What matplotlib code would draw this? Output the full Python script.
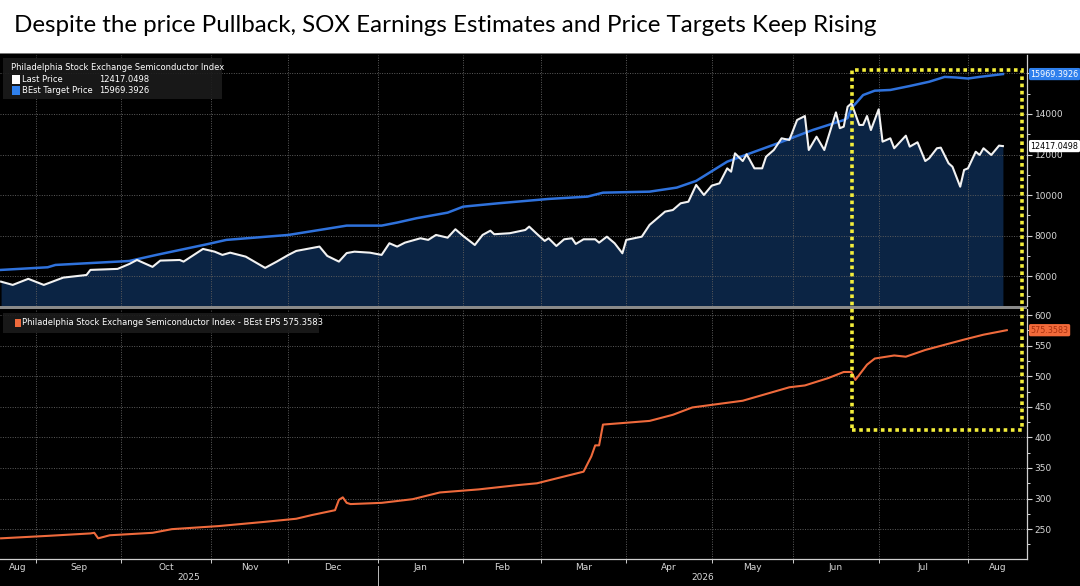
import numpy as np
import matplotlib.pyplot as plt
import matplotlib.transforms as mtransforms
from matplotlib.patches import Rectangle
from matplotlib.lines import Line2D

title = "Despite the price Pullback, SOX Earnings Estimates and Price Targets Keep Rising"

# Last Price (white line, filled)
price_dates = [
    '2025-08-19', '2025-08-22', '2025-08-28', '2025-09-03', '2025-09-10', '2025-09-18', '2025-09-19',
    '2025-09-30', '2025-10-03', '2025-10-07', '2025-10-13', '2025-10-15', '2025-10-22', '2025-10-23',
    '2025-10-30', '2025-11-04', '2025-11-06', '2025-11-10', '2025-11-14', '2025-11-21', '2025-11-26',
    '2025-12-01', '2025-12-03', '2025-12-11', '2025-12-15', '2025-12-18', '2025-12-22', '2025-12-24',
    '2025-12-30', '2026-01-02', '2026-01-06', '2026-01-08', '2026-01-12', '2026-01-16', '2026-01-20',
    '2026-01-22', '2026-01-27', '2026-01-29', '2026-02-02', '2026-02-05', '2026-02-09', '2026-02-11',
    '2026-02-12', '2026-02-18', '2026-02-24', '2026-02-25', '2026-02-27', '2026-03-03', '2026-03-04',
    '2026-03-06', '2026-03-10', '2026-03-12', '2026-03-13', '2026-03-17', '2026-03-20', '2026-03-23',
    '2026-03-25', '2026-03-27', '2026-03-31', '2026-04-01', '2026-04-07', '2026-04-09', '2026-04-14',
    '2026-04-15', '2026-04-17', '2026-04-21', '2026-04-23', '2026-04-27', '2026-04-29', '2026-05-01',
    '2026-05-05', '2026-05-07', '2026-05-08', '2026-05-11', '2026-05-13', '2026-05-14', '2026-05-18',
    '2026-05-20', '2026-05-21', '2026-05-25', '2026-05-27', '2026-05-29', '2026-06-02', '2026-06-04',
    '2026-06-05', '2026-06-09', '2026-06-11', '2026-06-16', '2026-06-17', '2026-06-18', '2026-06-19',
    '2026-06-22', '2026-06-24', '2026-06-25', '2026-06-26', '2026-06-29', '2026-07-01', '2026-07-02',
    '2026-07-06', '2026-07-07', '2026-07-10', '2026-07-13', '2026-07-15', '2026-07-17', '2026-07-20',
    '2026-07-22', '2026-07-23', '2026-07-27', '2026-07-28', '2026-07-30', '2026-07-31', '2026-08-03',
    '2026-08-05', '2026-08-06', '2026-08-07', '2026-08-11', '2026-08-13', '2026-08-14']
price_vals = [
    5730, 5570, 5870, 5570, 5930, 6060, 6310,
    6360, 6600, 6800, 6460, 6770, 6800, 6720,
    7345, 7210, 7050, 7160, 6965, 6410, 6720,
    7050, 7245, 7460, 7000, 6720, 7140, 7210,
    7160, 7050, 7625, 7460, 7655, 7870, 7790,
    8035, 7900, 8315, 7985, 7540, 8035, 8245,
    8070, 8120, 8280, 8445, 8085, 7740, 7870,
    7490, 7820, 7870, 7590, 7820, 7820, 7655,
    7950, 7625, 7130, 7790, 7950, 8530, 9020,
    9185, 9265, 9595, 9675, 10500, 10005, 10465,
    10580, 11320, 11155, 12060, 11680, 12015, 11320,
    11320, 11895, 12225, 12800, 12720, 13705, 13900,
    12225, 12880, 12225, 14080, 13300, 13375, 14360,
    14525, 13460, 13460, 13900, 13210, 14230, 12635,
    12800, 12310, 12930, 12390, 12605, 11680, 11815,
    12310, 12340, 11570, 11400, 10415, 11240, 11320,
    12140, 11980, 12310, 11980, 12440, 12417.0498]

# BEst Target Price (blue line)
target_dates = [
    '2025-08-19', '2025-09-04', '2025-09-08', '2025-10-03', '2025-10-14', '2025-10-31', '2025-11-07',
    '2025-12-01', '2025-12-11', '2025-12-22', '2026-01-02', '2026-01-08', '2026-01-15', '2026-01-27',
    '2026-02-02', '2026-02-13', '2026-03-04', '2026-03-18', '2026-03-24', '2026-04-09', '2026-04-20',
    '2026-04-27', '2026-05-07', '2026-05-26', '2026-06-08', '2026-06-18', '2026-06-19', '2026-06-22',
    '2026-06-23', '2026-06-25', '2026-06-30', '2026-07-06', '2026-07-13', '2026-07-20', '2026-07-24',
    '2026-07-29', '2026-08-03', '2026-08-06', '2026-08-14']
target_vals = [
    6310, 6440, 6555, 6750, 7050, 7575, 7790,
    8035, 8280, 8495, 8495, 8645, 8860, 9135,
    9430, 9595, 9810, 9925, 10120, 10170, 10370,
    10700, 11650, 12555, 13210, 13700, 13800, 14300,
    14500, 14935, 15150, 15185, 15380, 15590, 15830,
    15800, 15750, 15830, 15969.3926]

# BEst EPS (orange line)
eps_dates = [
    '2025-08-19', '2025-09-04', '2025-09-19', '2025-09-22', '2025-09-23', '2025-09-26', '2025-10-13',
    '2025-10-20', '2025-11-05', '2025-11-21', '2025-12-03', '2025-12-09', '2025-12-17', '2025-12-18',
    '2025-12-19', '2025-12-22', '2025-12-23', '2026-01-02', '2026-01-14', '2026-01-23', '2026-02-06',
    '2026-02-20', '2026-02-27', '2026-03-17', '2026-03-19', '2026-03-20', '2026-03-23', '2026-03-24',
    '2026-04-09', '2026-04-17', '2026-04-24', '2026-05-13', '2026-05-29', '2026-06-04', '2026-06-12',
    '2026-06-18', '2026-06-22', '2026-06-23', '2026-06-26', '2026-06-30', '2026-07-07', '2026-07-10',
    '2026-07-17', '2026-07-31', '2026-08-07', '2026-08-17']
eps_vals = [
    235, 239, 243, 244, 235, 240, 244,
    250, 255, 262, 267, 273, 281, 298,
    302, 293, 291, 293, 299, 310, 315,
    322, 325, 344, 369, 387, 387, 421,
    427, 437, 449, 460, 482, 485, 497,
    507, 507, 494, 519, 529, 534, 532,
    543, 560, 568, 575.3583]

month_starts = ['2025-09-01', '2025-10-01', '2025-11-01', '2025-12-01', '2026-01-01', '2026-02-01',
                '2026-03-01', '2026-04-01', '2026-05-01', '2026-06-01', '2026-07-01', '2026-08-01']
month_names = ['Aug', 'Sep', 'Oct', 'Nov', 'Dec', 'Jan', 'Feb', 'Mar', 'Apr', 'May', 'Jun', 'Jul', 'Aug']
year_names = ['2025', '2026']

# the terminal axis runs on trading days
start = np.datetime64('2025-08-18')


def bday_pos(dates):
    return np.busday_count(start, np.array(dates, dtype='datetime64[D]'))


xp = bday_pos(price_dates)
xt = bday_pos(target_dates)
xe = bday_pos(eps_dates)
xm = bday_pos(month_starts)
xlim = (0.72, 265.2)

W, H = 1080, 586
fig = plt.figure(figsize=(W / 100, H / 100), dpi=100, facecolor='white')
fig.add_artist(Rectangle((0, 0), 1, (H - 53) / H, transform=fig.transFigure,
                         facecolor='black', edgecolor='none', zorder=-5))
fig.add_artist(Rectangle((0, (H - 54) / H), 1, 1.2 / H, transform=fig.transFigure,
                         facecolor='#777777', edgecolor='none', zorder=-4))
fig.text(14 / W, 1 - 25 / H, title, fontsize=17.4, family='Lato', color='black', va='center')

ax1 = fig.add_axes([0, (H - 306) / H, 1027 / W, 251 / H])
ax2 = fig.add_axes([0, (H - 558.5) / H, 1027 / W, 249.5 / H])

grid_col = '#5c5c5c'
for ax in (ax1, ax2):
    ax.set_facecolor('black')
    ax.set_xlim(*xlim)
    for s in ['top', 'left', 'bottom']:
        ax.spines[s].set_visible(False)
    ax.spines['right'].set_color('#cfcfcf')
    ax.spines['right'].set_linewidth(0.9)
    ax.yaxis.tick_right()
    ax.tick_params(axis='y', which='both', colors='#d8d8d8', labelsize=6.5, direction='out', pad=2)
    ax.tick_params(axis='y', which='major', length=3.5, width=0.8)
    ax.tick_params(axis='y', which='minor', length=2, width=0.7)
    ax.set_xticks(xm)
    ax.grid(True, which='major', color=grid_col, linestyle=(0, (1, 1.5)), linewidth=0.7)

# top panel
ybot = 4530
ax1.set_ylim(ybot, 16910)
top_ticks = np.arange(6000, 16001, 2000)
ax1.set_yticks(top_ticks)
# the 16000 label sits under the target tag
ax1.set_yticklabels([str(t) if t < 16000 else '' for t in top_ticks])
ax1.set_yticks(np.arange(5000, 16001, 1000), minor=True)
ax1.tick_params(axis='x', which='both', length=0, labelbottom=False)
ax1.fill_between(xp, price_vals, ybot, color='#0b2444', zorder=1, linewidth=0)
ax1.plot(xt, target_vals, color='#2f72dc', lw=1.8, zorder=3)
ax1.plot(xp, price_vals, color='#f2f2f2', lw=1.5, zorder=4)

# bottom panel
ax2.set_ylim(202, 610)
ax2.set_yticks(np.arange(250, 601, 50))
ax2.set_yticks(np.arange(225, 601, 25), minor=True)
ax2.spines['bottom'].set_visible(True)
ax2.spines['bottom'].set_color('#cfcfcf')
ax2.spines['bottom'].set_linewidth(0.9)
ax2.plot(xe, eps_vals, color='#ef6a3c', lw=1.5, zorder=3)

edges = np.concatenate([[xlim[0]], xm, [xlim[1]]])
centers = (edges[:-1] + edges[1:]) / 2
ax2.set_xticks(centers, minor=True)
ax2.set_xticklabels(month_names, minor=True)
ax2.set_xticklabels([])
ax2.tick_params(axis='x', which='major', colors='#cfcfcf', length=3, width=0.7)
ax2.tick_params(axis='x', which='minor', length=0, labelsize=6.5, labelcolor='#d8d8d8', pad=3)

jan = xm[4]
tb = mtransforms.blended_transform_factory(ax2.transData, ax2.transAxes)
ax2.text((xlim[0] + jan) / 2, -0.078, year_names[0], transform=tb, ha='center', va='center',
         fontsize=6.5, color='#d8d8d8')
ax2.text((jan + xlim[1]) / 2, -0.078, year_names[1], transform=tb, ha='center', va='center',
         fontsize=6.5, color='#d8d8d8')
ax2.add_line(Line2D([jan, jan], [-0.03, -0.11], transform=tb, color='#bbbbbb', lw=0.7, clip_on=False))

# value tags on the right axis
for ax, val, s, fc, tc in [(ax1, target_vals[-1], '15969.3926', '#2f80ed', 'white'),
                           (ax1, price_vals[-1], '12417.0498', 'white', 'black'),
                           (ax2, eps_vals[-1], '575.3583', '#f26a3a', '#a8300e')]:
    tr = mtransforms.blended_transform_factory(ax.transAxes, ax.transData)
    ax.text(1.0035, val, s, transform=tr, ha='left', va='center', fontsize=5.8, color=tc,
            zorder=10, clip_on=False,
            bbox=dict(boxstyle='round,pad=0.2', fc=fc, ec='none'))

# legends
ax1.add_patch(Rectangle((0.003, 0.825), 0.213, 0.163, transform=ax1.transAxes,
                        facecolor='#1b1b1b', edgecolor='none', alpha=0.9, zorder=6))
ax1.text(0.0107, 0.952, 'Philadelphia Stock Exchange Semiconductor Index', transform=ax1.transAxes,
         fontsize=6, color='white', va='center', zorder=7)
ax1.add_patch(Rectangle((0.0117, 0.886), 0.0078, 0.034, transform=ax1.transAxes,
                        facecolor='white', edgecolor='none', zorder=7))
ax1.add_patch(Rectangle((0.0117, 0.841), 0.0078, 0.034, transform=ax1.transAxes,
                        facecolor='#2f80ed', edgecolor='none', zorder=7))
ax1.text(0.0214, 0.904, 'Last Price', transform=ax1.transAxes, fontsize=6, color='white',
         va='center', zorder=7)
ax1.text(0.0964, 0.904, '12417.0498', transform=ax1.transAxes, fontsize=6, color='white',
         va='center', zorder=7)
ax1.text(0.0214, 0.859, 'BEst Target Price', transform=ax1.transAxes, fontsize=6, color='white',
         va='center', zorder=7)
ax1.text(0.0964, 0.859, '15969.3926', transform=ax1.transAxes, fontsize=6, color='white',
         va='center', zorder=7)

ax2.add_patch(Rectangle((0.003, 0.904), 0.308, 0.08, transform=ax2.transAxes,
                        facecolor='#1b1b1b', edgecolor='none', alpha=0.9, zorder=6))
ax2.add_patch(Rectangle((0.0146, 0.928), 0.0058, 0.032, transform=ax2.transAxes,
                        facecolor='#ef6a3c', edgecolor='none', zorder=7))
ax2.text(0.0214, 0.944, 'Philadelphia Stock Exchange Semiconductor Index - BEst EPS 575.3583',
         transform=ax2.transAxes, fontsize=6, color='white', va='center', zorder=7)

# separator between the panels
fig.add_artist(Rectangle((0, (H - 308.5) / H), 1027 / W, 2.5 / H, transform=fig.transFigure,
                         facecolor='#8a8a8a', edgecolor='none', zorder=5))

# highlight box
fig.add_artist(Rectangle((852 / W, (H - 430) / H), 170 / W, 360 / H, transform=fig.transFigure,
                         fill=False, edgecolor='#f4ee3a', linewidth=2.6,
                         linestyle=(0, (1, 1)), zorder=20))

fig.savefig('out.png', dpi=100, facecolor='white')
